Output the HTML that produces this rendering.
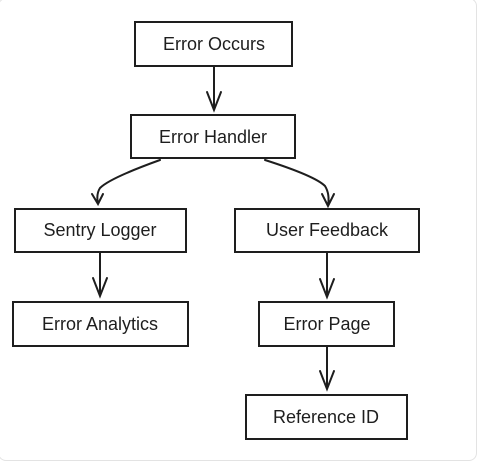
<!DOCTYPE html>
<html><head><style>
html,body{margin:0;padding:0;background:#fff;}
.card{position:absolute;left:-2px;top:-2px;width:479px;height:463px;border:1px solid #e3e3e3;border-radius:8px;box-sizing:border-box;}
svg{position:absolute;left:0;top:0;}
text{font-family:"Liberation Sans",sans-serif;font-size:18px;fill:#1e1e1e;text-anchor:middle;}
</style></head><body>
<div class="card"></div>
<svg width="480" height="464" viewBox="0 0 480 464">
<g fill="#fff" stroke="#1e1e1e" stroke-width="2">
<rect x="135" y="22" width="157" height="44"/>
<rect x="131" y="115" width="164" height="43"/>
<rect x="15" y="209" width="171" height="43"/>
<rect x="235" y="209" width="184" height="43"/>
<rect x="13" y="302" width="175" height="44"/>
<rect x="259" y="302" width="135" height="44"/>
<rect x="246" y="395" width="161" height="44"/>
</g>
<g fill="none" stroke="#1e1e1e" stroke-width="2" stroke-linecap="round">
<path d="M214 66 V110 M207 92 L214 110 L221 92"/>
<path d="M160 160 Q110 178 100 188 Q96 194 98 204 M92 194 L98 204 L103 194"/>
<path d="M265 160 Q315 176 325 186 Q330 194 328 206 M322 194 L328 206 L334 194"/>
<path d="M100 252 V296 M93 278 L100 296 L107 278"/>
<path d="M327 252 V297 M320 279 L327 297 L334 279"/>
<path d="M327 346 V389 M320 371 L327 389 L334 371"/>
</g>
<text x="214" y="50">Error Occurs</text>
<text x="213" y="143">Error Handler</text>
<text x="100" y="236">Sentry Logger</text>
<text x="327" y="236">User Feedback</text>
<text x="100" y="330">Error Analytics</text>
<text x="327" y="330">Error Page</text>
<text x="326" y="423">Reference ID</text>
</svg>
</body></html>
